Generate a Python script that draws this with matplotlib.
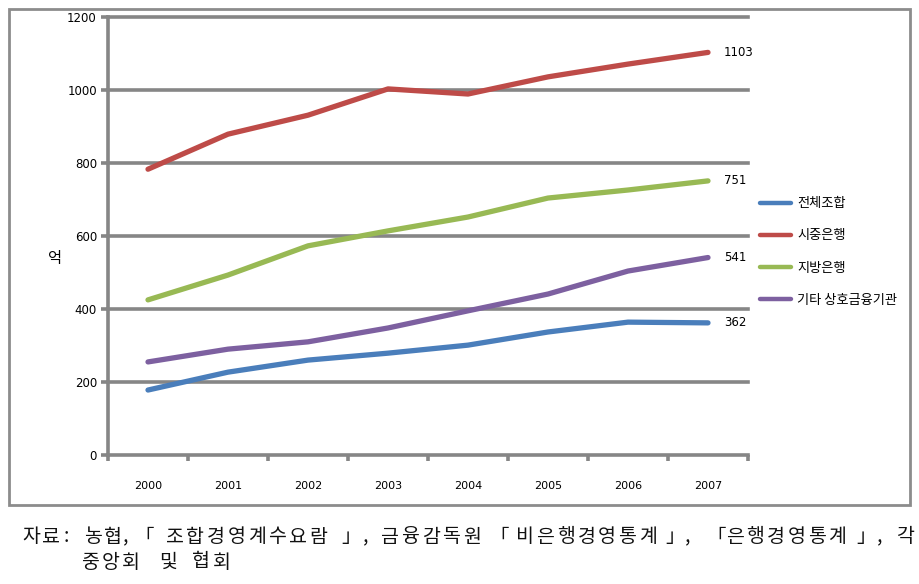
import matplotlib
matplotlib.use("Agg")
import matplotlib.pyplot as plt
from matplotlib.patches import Rectangle

plt.rcParams["font.family"] = ["Noto Sans CJK KR", "DejaVu Sans"]

# ---- data -------------------------------------------------------------------
years = ["2000", "2001", "2002", "2003", "2004", "2005", "2006", "2007"]
jeonche = [178, 227, 260, 279, 301, 337, 364, 362]        # 전체조합
sijung = [783, 879, 931, 1003, 989, 1036, 1071, 1103]     # 시중은행
jibang = [425, 493, 573, 614, 652, 704, 726, 751]         # 지방은행
gita = [255, 290, 310, 348, 395, 441, 504, 541]           # 기타 상호금융기관
names = ["전체조합", "시중은행", "지방은행", "기타 상호금융기관"]
yticks = [0, 200, 400, 600, 800, 1000, 1200]

COLORS = ["#4a7ebb", "#be4b48", "#98b954", "#7d60a0"]
GRID = "#868686"

W, H = 920, 584
fig = plt.figure(figsize=(W / 100, H / 100), dpi=100)
ax = fig.add_axes([108 / W, 1 - 455 / H, 640 / W, 438 / H])

xs = list(range(len(years)))
series = [jeonche, sijung, jibang, gita]
for vals, name, c in zip(series, names, COLORS):
    ax.plot(xs, vals, color=c, lw=3.8, solid_capstyle="round",
            solid_joinstyle="round", label=name, zorder=3)
    ax.text(xs[-1] + 0.2, vals[-1], str(vals[-1]), fontsize=8.5,
            va="center", ha="left", family="DejaVu Sans", clip_on=False)

ax.set_xlim(-0.5, len(years) - 0.5)
ax.set_ylim(0, 1200)
ax.set_yticks(yticks)
ax.set_yticklabels([str(v) for v in yticks], fontsize=8.5, family="DejaVu Sans")
for v in yticks:
    ax.axhline(v, color=GRID, lw=2.6, zorder=1, clip_on=False)

# category ticks: labels at centers, marks at boundaries
ax.set_xticks(xs)
ax.set_xticklabels(years, fontsize=8, family="DejaVu Sans")
ax.tick_params(axis="x", length=0, pad=19)
ax.set_xticks([x - 0.5 for x in xs] + [len(years) - 0.5], minor=True)
ax.tick_params(axis="x", which="minor", length=4, width=2.6, color=GRID)
ax.tick_params(axis="y", length=5, width=2.6, color=GRID, pad=3)

for s in ["top", "right", "bottom"]:
    ax.spines[s].set_visible(False)
ax.spines["left"].set_color(GRID)
ax.spines["left"].set_linewidth(2.6)

ax.set_ylabel("억", fontsize=11, rotation=0, va="center", ha="center")
ax.yaxis.set_label_coords((55 - 108) / 640, (455 - 258) / 438)

leg = fig.legend(loc="upper left", bbox_to_anchor=(755 / W, 1 - 192 / H),
                 frameon=False, fontsize=9.5, handlelength=2.3,
                 handletextpad=0.5, labelspacing=1.45, borderaxespad=0)
for ln in leg.get_lines():
    ln.set_linewidth(3.2)

# outer border
fig.patches.append(Rectangle((9 / W, 1 - 505 / H), 901 / W, 496 / H,
                             transform=fig.transFigure, fill=False,
                             edgecolor="#8c8c8c", lw=2))


# caption: wide-set (Batang-like) letter spacing, so each run is laid out
# char by char from the left edge of its first glyph
def spaced(x, y, s, pitch=20.5, size=14):
    for ch in s:
        fig.text(x / W, 1 - y / H, ch, fontsize=size, ha="left",
                 va="center", color="#111111")
        x += pitch


# 「 sits on the right half of its em box, so its x is pulled left
line1 = [("자료", 22), (":", 64), ("농협", 84), (",", 123),
         ("「", 134), ("조합경영계수요람", 166), ("」", 341), (",", 363),
         ("금융감독원", 381), ("「", 489), ("비은행경영통계", 516),
         ("」", 665), (",", 685), ("「", 706), ("은행경영통계", 726),
         ("」", 856), (",", 877), ("각", 896)]
line2 = [("중앙회", 81), ("및", 159), ("협회", 192)]
for s, x in line1:
    spaced(x, 537, s)
for s, x in line2:
    spaced(x, 562, s)

fig.savefig("out.png", dpi=100)
